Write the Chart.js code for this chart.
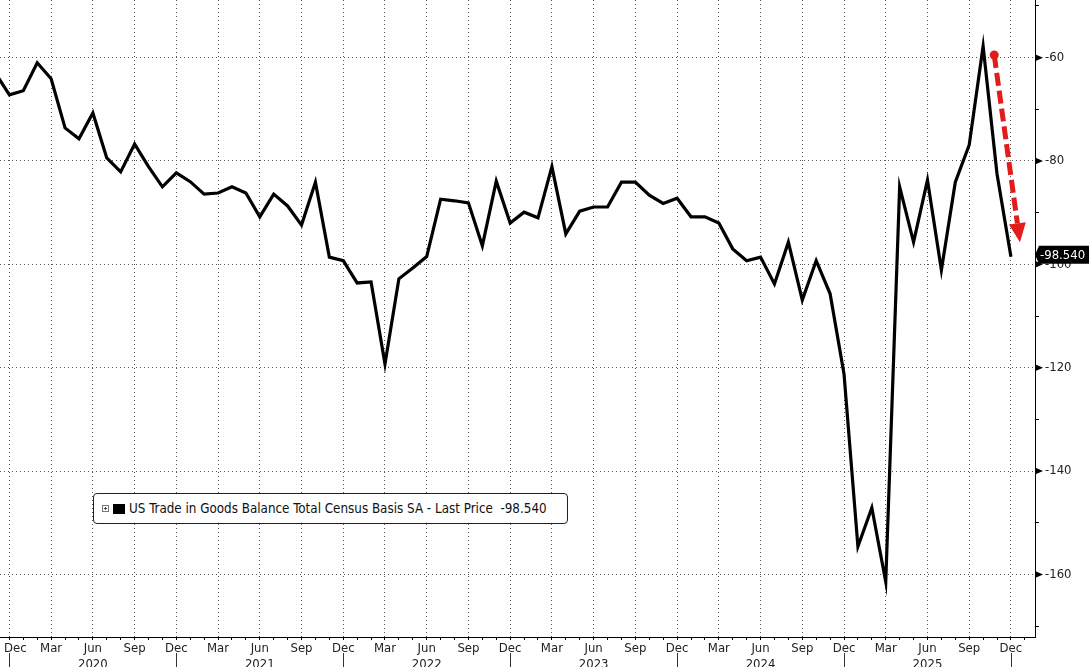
<!DOCTYPE html>
<html>
<head>
<meta charset="utf-8">
<script src="https://cdn.jsdelivr.net/npm/chart.js@4/dist/chart.umd.min.js"></script>
<style>
  body { margin: 0; background: #fff; }
  .contenedor { position: relative; width: 1089px; height: 667px; }
  .leyenda {
    position: absolute; left: 93px; top: 493px; width: 473px; height: 29px;
    border: 1px solid #222; border-radius: 4px; background: #fff;
    font-family: "DejaVu Sans Condensed", "DejaVu Sans", sans-serif; font-size: 13.3px; color: #111;
    display: flex; align-items: center; white-space: nowrap;
  }
  .mas { width: 5px; height: 5px; border: 1px solid #777; margin-left: 8px; position: relative; }
  .mas::before { content: ""; position: absolute; left: 1px; top: 2px; width: 3px; height: 1px; background: #444; }
  .mas::after { content: ""; position: absolute; left: 2px; top: 1px; width: 1px; height: 3px; background: #444; }
  .cuadro { width: 12px; height: 10px; background: #000; margin-left: 4px; margin-right: 4px; }
</style>
</head>
<body>
<div class="contenedor">
  <canvas id="grafica" width="1089" height="667"></canvas>
  <div class="leyenda"><span class="mas"></span><span class="cuadro"></span><span>US Trade in Goods Balance Total Census Basis SA - Last Price&nbsp;&nbsp;-98.540</span></div>
</div>
<script>
// meses (YYYY-MM) y saldo comercial de bienes en miles de millones USD
const meses = [
  "2019-11", "2019-12",
  "2020-01", "2020-02", "2020-03", "2020-04", "2020-05", "2020-06", "2020-07", "2020-08", "2020-09", "2020-10", "2020-11", "2020-12",
  "2021-01", "2021-02", "2021-03", "2021-04", "2021-05", "2021-06", "2021-07", "2021-08", "2021-09", "2021-10", "2021-11", "2021-12",
  "2022-01", "2022-02", "2022-03", "2022-04", "2022-05", "2022-06", "2022-07", "2022-08", "2022-09", "2022-10", "2022-11", "2022-12",
  "2023-01", "2023-02", "2023-03", "2023-04", "2023-05", "2023-06", "2023-07", "2023-08", "2023-09", "2023-10", "2023-11", "2023-12",
  "2024-01", "2024-02", "2024-03", "2024-04", "2024-05", "2024-06", "2024-07", "2024-08", "2024-09", "2024-10", "2024-11", "2024-12",
  "2025-01", "2025-02", "2025-03", "2025-04", "2025-05", "2025-06", "2025-07", "2025-08", "2025-09", "2025-10", "2025-11", "2025-12"
];
const saldo = [
  -63.0, -67.2,
  -66.4, -61.0, -64.1, -73.6, -75.7, -70.7, -79.4, -82.1, -76.7, -81.1, -85.0, -82.3,
  -84.0, -86.4, -86.2, -85.0, -86.2, -90.8, -86.4, -88.7, -92.4, -84.1, -98.6, -99.3,
  -103.6, -103.4, -119.3, -102.8, -100.7, -98.5, -87.4, -87.7, -88.1, -96.4, -83.9, -92.0,
  -89.9, -91.0, -81.1, -94.1, -89.7, -88.9, -88.9, -84.1, -84.1, -86.6, -88.2, -87.2,
  -90.8, -90.8, -92.0, -97.0, -99.3, -98.6, -103.8, -95.7, -106.9, -99.3, -105.7, -121.2,
  -154.6, -147.1, -161.4, -85.0, -95.7, -83.7, -101.1, -84.1, -76.9, -57.8, -82.5, -98.54
];
const nombresMes = ["Jan", "Feb", "Mar", "Apr", "May", "Jun", "Jul", "Aug", "Sep", "Oct", "Nov", "Dec"];
const ticksY = [-170, -160, -150, -140, -130, -120, -110, -100, -90, -80, -70, -60, -50];
const ultimoValor = -98.54;

const fuente = "'DejaVu Sans Condensed', 'DejaVu Sans', sans-serif";

// indice de mes: Dic 2019 = 0
function indiceMes(m) {
  const [a, mm] = m.split("-").map(Number);
  return (a - 2019) * 12 + mm - 12;
}
const puntos = meses.map((m, i) => ({ x: indiceMes(m), y: saldo[i] }));

// separadores de año, triangulos del eje, flecha roja y etiqueta del ultimo precio
const extras = {
  id: "extras",
  afterDraw(chart) {
    const ctx = chart.ctx;
    const x = chart.scales.x;
    const y = chart.scales.y;
    const area = chart.chartArea;
    ctx.save();

    // separadores de año bajo los Dec
    ctx.strokeStyle = "#333";
    ctx.lineWidth = 1;
    for (let v = 0; v <= 72; v += 12) {
      const px = Math.round(x.getPixelForValue(v)) + 0.5;
      ctx.beginPath();
      ctx.moveTo(px, 653);
      ctx.lineTo(px, 667);
      ctx.stroke();
    }

    // triangulos en los ticks mayores
    ctx.fillStyle = "#000";
    ticksY.filter((t) => t % 20 === 0).forEach((t) => {
      const py = y.getPixelForValue(t);
      ctx.beginPath();
      ctx.moveTo(area.right, py - 3.5);
      ctx.lineTo(area.right + 8, py);
      ctx.lineTo(area.right, py + 3.5);
      ctx.closePath();
      ctx.fill();
    });

    // flecha roja discontinua
    const x0 = x.getPixelForValue(70.8), y0 = y.getPixelForValue(-59.5);
    const x1 = x.getPixelForValue(72.65), y1 = y.getPixelForValue(-95.7);
    const dx = x1 - x0, dy = y1 - y0;
    const largo = Math.hypot(dx, dy);
    const ux = dx / largo, uy = dy / largo;
    const cabeza = 19, ancho = 8.5;
    const bx = x1 - ux * cabeza, by = y1 - uy * cabeza;
    ctx.strokeStyle = "#e31b1b";
    ctx.fillStyle = "#e31b1b";
    ctx.lineWidth = 5;
    ctx.setLineDash([13, 5]);
    ctx.beginPath();
    ctx.moveTo(x0, y0);
    ctx.lineTo(bx, by);
    ctx.stroke();
    ctx.setLineDash([]);
    ctx.beginPath();
    ctx.arc(x0, y0, 4.5, 0, Math.PI * 2);
    ctx.fill();
    ctx.beginPath();
    ctx.moveTo(x1, y1);
    ctx.lineTo(bx - uy * ancho, by + ux * ancho);
    ctx.lineTo(bx + uy * ancho, by - ux * ancho);
    ctx.closePath();
    ctx.fill();

    // etiqueta del ultimo precio
    const py = y.getPixelForValue(ultimoValor) - 2;
    ctx.fillStyle = "#000";
    ctx.beginPath();
    ctx.moveTo(area.right, py);
    ctx.lineTo(area.right + 4, py - 9);
    ctx.lineTo(1089, py - 9);
    ctx.lineTo(1089, py + 9);
    ctx.lineTo(area.right + 4, py + 9);
    ctx.closePath();
    ctx.fill();
    ctx.fillStyle = "#fff";
    ctx.font = "13px " + fuente;
    ctx.textBaseline = "middle";
    ctx.textAlign = "left";
    ctx.fillText(ultimoValor.toFixed(3), area.right + 5, py + 1);

    ctx.restore();
  },
};

const ctx = document.getElementById("grafica").getContext("2d");
new Chart(ctx, {
  type: "line",
  data: {
    datasets: [
      {
        label: "US Trade in Goods Balance Total Census Basis SA",
        data: puntos,
        borderColor: "#000",
        borderWidth: 3.2,
        pointRadius: 0,
        tension: 0,
      },
    ],
  },
  options: {
    responsive: false,
    animation: false,
    devicePixelRatio: 1,
    layout: { padding: 0 },
    plugins: { legend: { display: false }, tooltip: { enabled: false } },
    scales: {
      x: {
        type: "linear",
        min: -0.676,
        max: 73.73,
        afterBuildTicks: (scale) => {
          const t = [];
          for (let v = 0; v <= 73; v++) t.push({ value: v });
          scale.ticks = t;
        },
        afterFit: (scale) => {
          scale.height = 30;
          scale.paddingLeft = 0;
          scale.paddingRight = 0;
        },
        ticks: {
          autoSkip: false,
          maxRotation: 0,
          padding: 0,
          color: "#222",
          font: { family: fuente, size: 13, lineHeight: 1.27 },
          callback: (v) => {
            if (v % 3 !== 0) return "";
            const mes = ((v + 11) % 12) + 1;
            const anio = 2019 + Math.floor((v + 11) / 12);
            // el primer Dec se corre a la derecha para que no quede cortado
            if (v === 0) return "\u2002\u2002" + nombresMes[mes - 1];
            if (mes === 6) return [nombresMes[mes - 1], String(anio)];
            return nombresMes[mes - 1];
          },
        },
        grid: {
          color: (c) => (c.tick && c.tick.value % 3 === 0 ? "#555" : "rgba(0,0,0,0)"),
          tickColor: "#000",
          tickLength: 3,
          lineWidth: 1,
        },
        border: { display: true, color: "#000", width: 1, dash: [1, 3] },
      },
      y: {
        position: "right",
        min: -172.1,
        max: -48.85,
        afterBuildTicks: (scale) => {
          scale.ticks = ticksY.map((v) => ({ value: v }));
        },
        afterFit: (scale) => {
          scale.width = 54;
          scale.paddingTop = 0;
          scale.paddingBottom = 0;
        },
        ticks: {
          padding: 6,
          color: "#222",
          font: { family: fuente, size: 13 },
          callback: (v) => (v % 20 === 0 ? String(v) : ""),
        },
        grid: {
          color: (c) => (c.tick && c.tick.value % 20 === 0 ? "#555" : "rgba(0,0,0,0)"),
          tickColor: "#000",
          tickLength: 4,
          lineWidth: 1,
        },
        border: { display: true, color: "#000", width: 1, dash: [1, 3] },
      },
    },
  },
  plugins: [extras],
});
</script>
</body>
</html>
